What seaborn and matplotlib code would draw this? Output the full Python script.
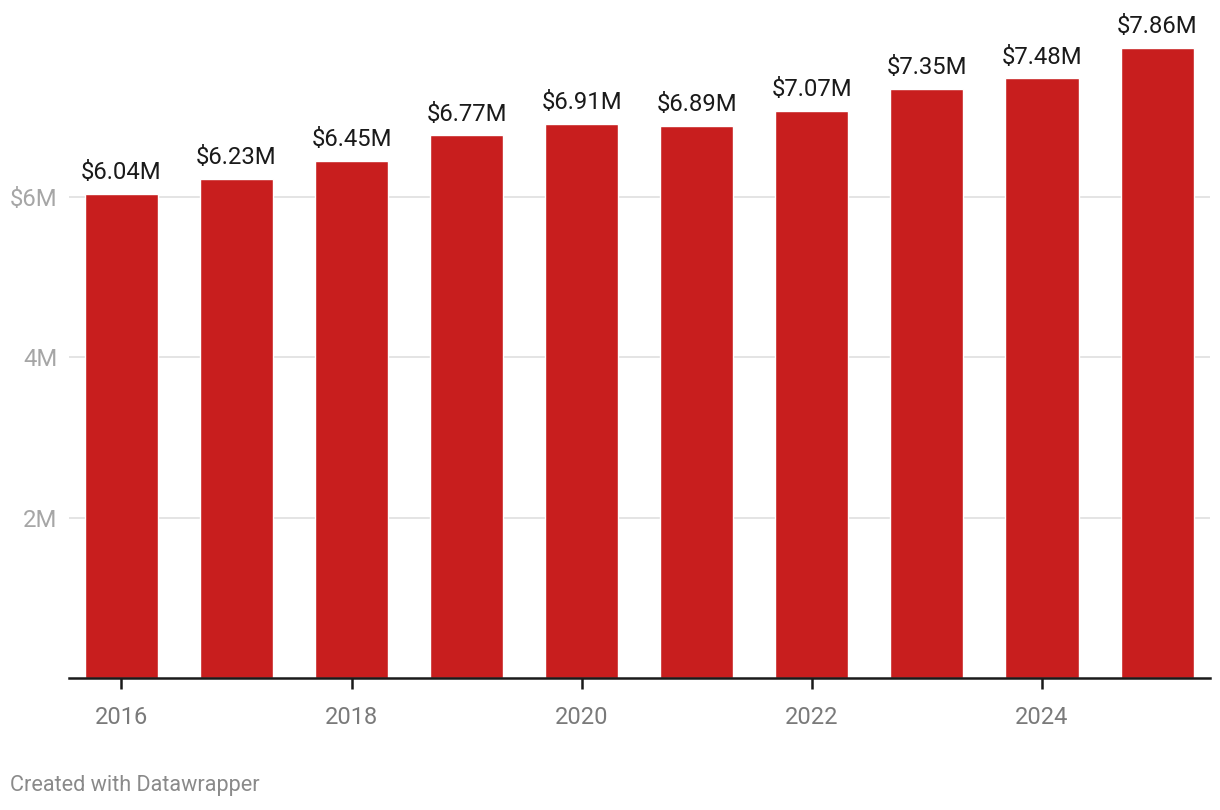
import matplotlib
matplotlib.use("Agg")
import matplotlib.pyplot as plt
import seaborn as sns
import pandas as pd

# data
years = ["2016", "2017", "2018", "2019", "2020", "2021", "2022", "2023", "2024", "2025"]
values = [6.04, 6.23, 6.45, 6.77, 6.91, 6.89, 7.07, 7.35, 7.48, 7.86]  # millions of $
bar_labels = ["$6.04M", "$6.23M", "$6.45M", "$6.77M", "$6.91M", "$6.89M",
              "$7.07M", "$7.35M", "$7.48M", "$7.86M"]
ytick_vals = [2, 4, 6]
ytick_labels = ["2M", "4M", "$6M"]
xtick_years = ["2016", "2018", "2020", "2022", "2024"]

df = pd.DataFrame({"year": years, "value": values})

sns.set_style("white")
plt.rcParams["font.family"] = ["Roboto", "DejaVu Sans"]

fig = plt.figure(figsize=(12.2, 8.1), dpi=100)
ax = fig.add_axes([69 / 1220, 132 / 810, 1141 / 1220, 678 / 810])

sns.barplot(data=df, x="year", y="value", color="#c81e1e", saturation=1,
            width=0.635, ax=ax, zorder=3)

# value labels above bars
for i, (v, lab) in enumerate(zip(values, bar_labels)):
    ax.annotate(lab, (i, v), xytext=(0, 7), textcoords="offset points",
                ha="center", va="bottom", fontsize=17.2, color="#1a1a1a")

ax.set_xlim(-0.456, 9.46)
ax.set_ylim(0, 678 / 80.17)

ax.set_yticks(ytick_vals)
ax.set_yticklabels(ytick_labels)
ax.yaxis.grid(True, color="#e2e2e2", linewidth=1.3, zorder=0)
ax.tick_params(axis="y", left=False, length=0, pad=8.5, labelsize=17.2,
               labelcolor="#a6a6a6")

xt = [years.index(y) for y in xtick_years]
ax.set_xticks(xt)
ax.set_xticklabels(xtick_years)
ax.tick_params(axis="x", bottom=True, direction="out", length=8, width=1.8,
               color="#1a1a1a", pad=12, labelsize=17, labelcolor="#7a7a7a")

for s in ["top", "right", "left"]:
    ax.spines[s].set_visible(False)
ax.spines["bottom"].set_color("#1a1a1a")
ax.spines["bottom"].set_linewidth(1.8)
ax.spines["bottom"].set_zorder(5)

ax.set_xlabel("")
ax.set_ylabel("")

fig.text(10 / 1220, 1 - 786 / 810, "Created with Datawrapper", fontsize=15.6,
         color="#8a8a8a", ha="left", va="center")

fig.savefig("out.png", dpi=100)
